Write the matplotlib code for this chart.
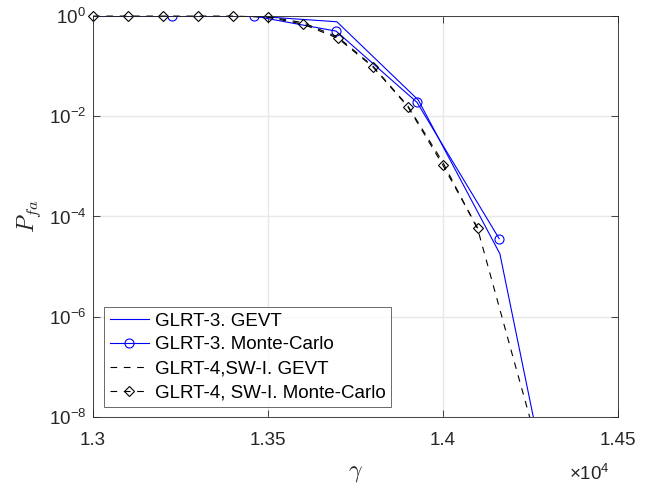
import numpy as np
import matplotlib
matplotlib.use("Agg")
import matplotlib.pyplot as plt
from matplotlib.ticker import FixedLocator, FuncFormatter, NullLocator

plt.rcParams['font.family'] = ['Liberation Sans', 'DejaVu Sans']
plt.rcParams['mathtext.fontset'] = 'cm'

# --- dane ---
# GLRT-3, GEVT (niebieska linia ciagla)
g3_gevt_x = [13000, 13225, 13460, 13697, 13930, 14163, 14400]
g3_gevt_y = [1.0, 1.0, 1.0, 0.77, 0.021, 1.8e-5, 1.5e-13]

# GLRT-3, Monte-Carlo (niebieskie kolka)
g3_mc_x = [13000, 13225, 13460, 13695, 13926, 14161]
g3_mc_y = [1.0, 1.0, 1.0, 0.5, 0.019, 3.6e-5]

# GLRT-4, SW-I, GEVT (czarna przerywana)
g4_gevt_x = [13000, 13100, 13200, 13300, 13400, 13500, 13600, 13700,
             13800, 13900, 14000, 14100, 14200, 14300]
g4_gevt_y = [1.0, 1.0, 1.0, 1.0, 1.0, 0.97, 0.74, 0.38,
             0.1, 0.016, 1.2e-3, 5.5e-5, 1.6e-7, 5e-10]

# GLRT-4, SW-I, Monte-Carlo (czarne romby)
g4_mc_x = [13000, 13100, 13200, 13300, 13400, 13500, 13600, 13700,
           13800, 13900, 14000, 14100]
g4_mc_y = [1.0, 1.0, 1.0, 1.0, 1.0, 0.95, 0.69, 0.36,
           0.097, 0.0155, 1.06e-3, 5.8e-5]

x_ticks = [13000, 13500, 14000, 14500]
y_ticks = [1e-8, 1e-6, 1e-4, 1e-2, 1e0]

fig = plt.figure(figsize=(6.6, 4.87), dpi=100)
ax = fig.add_axes([0.141, 0.144, 0.795, 0.823])

blue = (0.0, 0.0, 1.0)
ax.plot(g3_gevt_x, g3_gevt_y, '-', color=blue, lw=0.8, label='GLRT-3. GEVT')
ax.plot(g3_mc_x, g3_mc_y, '-', color=blue, lw=0.8, marker='o', ms=6.5,
        mfc='none', mec=blue, mew=0.8, markevery=slice(1, None),
        label='GLRT-3. Monte-Carlo')
ax.plot(g4_gevt_x, g4_gevt_y, '--', color='black', lw=0.8, dashes=(6, 6),
        label='GLRT-4,SW-I. GEVT')
ax.plot(g4_mc_x, g4_mc_y, '--', color='black', lw=0.8, dashes=(6, 6),
        marker='D', ms=5, mfc='none', mec='black', mew=0.8, clip_on=False,
        label='GLRT-4, SW-I. Monte-Carlo')

ax.set_yscale('log')
ax.set_xlim(13000, 14500)
ax.set_ylim(1e-8, 1)
ax.xaxis.set_major_locator(FixedLocator(x_ticks))
ax.xaxis.set_major_formatter(FuncFormatter(lambda v, p: '%g' % (v / 1e4)))
ax.yaxis.set_major_locator(FixedLocator(y_ticks))
ax.yaxis.set_minor_locator(NullLocator())
ax.yaxis.set_major_formatter(FuncFormatter(
    lambda v, p: r'$\mathregular{10^{%d}}$' % int(round(np.log10(v)))))

ax.grid(True, color='#e8e8e8', lw=1.0)
ax.set_axisbelow(True)
ax.tick_params(which='both', direction='in', top=True, right=True,
               labelsize=13.5, colors='#262626', length=5, width=0.6)
ax.tick_params(axis='x', pad=11)
ax.tick_params(axis='y', pad=5)
for s in ax.spines.values():
    s.set_color('#262626')
    s.set_linewidth(0.6)

ax.set_xlabel(r'$\gamma$', fontsize=17, color='#262626', labelpad=9)
ax.set_ylabel(r'$P_{fa}$', fontsize=17, color='#262626', labelpad=4)
ax.text(0.985, -0.117, r'$\mathregular{\times10^{4}}$', transform=ax.transAxes,
        ha='right', va='top', fontsize=13.5, color='#262626')

leg = ax.legend(loc='lower left', bbox_to_anchor=(0.021, 0.025), fontsize=13.5,
                frameon=True, fancybox=False, edgecolor='#262626',
                handlelength=2.1, handletextpad=0.3, borderpad=0.3,
                labelspacing=0.36, borderaxespad=0)
leg.get_frame().set_linewidth(0.6)

plt.savefig('out.png', dpi=100)
plt.close()
